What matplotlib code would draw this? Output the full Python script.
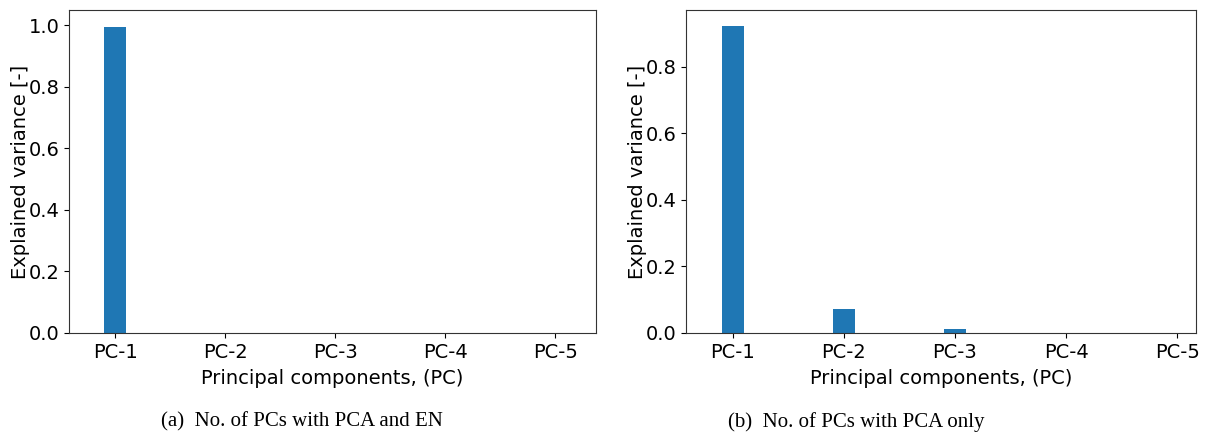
import matplotlib
matplotlib.use('Agg')
import matplotlib.pyplot as plt
import numpy as np

plt.rcParams['font.family'] = ['DejaVu Sans']

# explained variance ratio per principal component
pcs = ['PC-1', 'PC-2', 'PC-3', 'PC-4', 'PC-5']
var_pca_en = [0.993, 0.0, 0.0, 0.0, 0.0]
var_pca_only = [0.922, 0.072, 0.012, 0.0, 0.0]
captions = ['(a)  No. of PCs with PCA and EN', '(b)  No. of PCs with PCA only']

W, H = 1206, 434
fig = plt.figure(figsize=(W / 100, H / 100), dpi=100)

ax1 = fig.add_axes([69 / W, (H - 333) / H, 527 / W, 323 / H])
ax2 = fig.add_axes([686 / W, (H - 333) / H, 510 / W, 323 / H])

x = np.arange(len(pcs))
for ax, vals in [(ax1, var_pca_en), (ax2, var_pca_only)]:
    ax.bar(x, vals, width=0.2, color='#1f77b4')
    ax.set_xticks(x)
    ax.set_xticklabels(pcs, fontsize=14)
    ax.tick_params(axis='y', labelsize=14)
    ax.set_ylabel('Explained variance [-]', fontsize=14, labelpad=-1)
    ax.set_xlabel('Principal components, (PC)', fontsize=14, labelpad=5)
    for s in ax.spines.values():
        s.set_color('#333333')

ax1.set_xlim(-0.42, 4.37)
ax1.set_ylim(0, 1.049)
ax2.set_xlim(-0.42, 4.17)
ax2.set_ylim(0, 0.971)

fig.text(302 / W, 1 - 422 / H, captions[0], ha='center', va='center',
         fontsize=15, family='Liberation Serif')
fig.text(856 / W, 1 - 422 / H, captions[1], ha='center', va='center',
         fontsize=15, family='Liberation Serif')

plt.savefig('out.png', dpi=100)
